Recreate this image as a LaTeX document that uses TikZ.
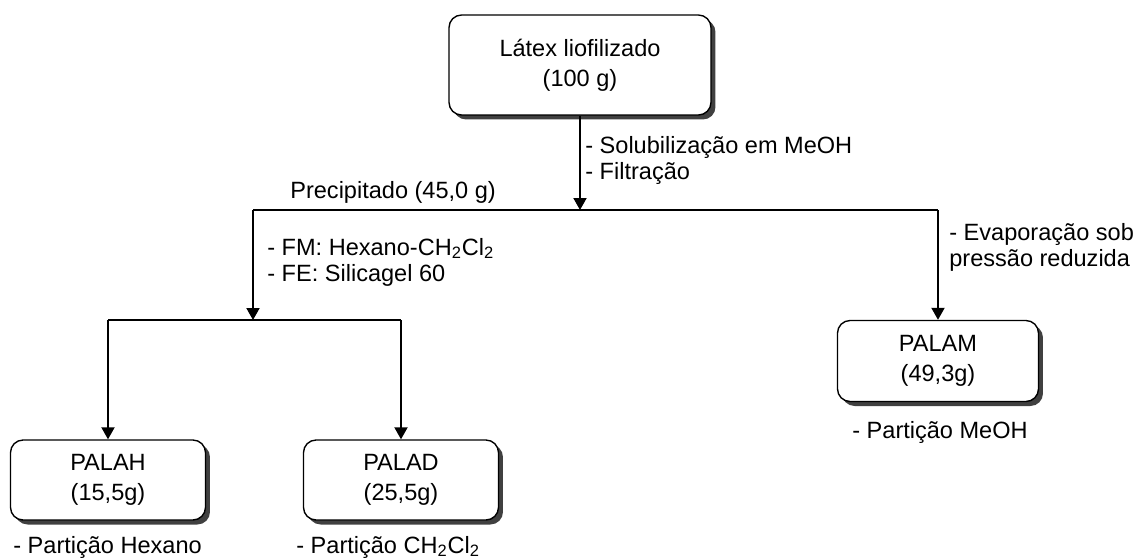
\documentclass[tikz,border=0pt]{standalone}
\usepackage{fontspec}
\setmainfont{Liberation Sans}
\usetikzlibrary{arrows.meta,shadows}
\tikzset{
	caixa/.style={draw, line width=0.8pt, rounded corners=0.25cm, fill=white,
		drop shadow={shadow xshift=0.09cm, shadow yshift=-0.09cm, fill=black!75, opacity=1},
		align=center, font=\fontsize{13.4}{17}\selectfont},
	rotulo/.style={anchor=west, align=left, inner sep=0pt, font=\fontsize{13.4}{14.8}\selectfont},
	seta/.style={line width=1.1pt, -{Triangle[width=0.26cm,length=0.24cm]}},
	linha/.style={line width=1.1pt},
}
\begin{document}
\begin{tikzpicture}[x=0.02cm, y=-0.02cm]
			\useasboundingbox (0,0) rectangle (1144,559);
			\node[caixa, minimum width=5.24cm, minimum height=2cm] (latex) at (580,65) {Látex liofilizado\\(100 g)};
			\node[caixa, minimum width=3.9cm, minimum height=1.6cm] (palah) at (108,480) {PALAH\\(15,5g)};
			\node[caixa, minimum width=3.9cm, minimum height=1.6cm] (palad) at (401,480) {PALAD\\(25,5g)};
			\node[caixa, minimum width=4.02cm, minimum height=1.62cm] (palam) at (938,361) {PALAM\\(49,3g)};
			\coordinate (precip) at (253,210);
			\coordinate (topo)   at (latex.south |- precip);
			\coordinate (evap)   at (palam.north |- precip);
			\coordinate (coluna) at (253,320);
			\coordinate (hex)    at (palah.north |- coluna);
			\coordinate (dcm)    at (palad.north |- coluna);
			\draw[seta] (latex) -- (topo);
			\draw[linha] (precip) -- (evap);
			\draw[seta] (precip) -- (coluna);
			\draw[linha] (hex) -- (dcm);
			\draw[seta] (hex) -- (palah);
			\draw[seta] (dcm) -- (palad);
			\draw[seta] (evap) -- (palam);
			\node[rotulo] (lprecip) at (290,192) {Precipitado (45,0 g)};
			\node[rotulo] (lsolub) at (585,160) {- Solubilização em MeOH\\- Filtração};
			\node[rotulo] (lfm) at (267,262) {- FM: Hexano-CH\textsubscript{2}Cl\textsubscript{2}\\- FE: Silicagel 60};
			\node[rotulo] (levap) at (949,247) {- Evaporação sob\\pressão reduzida};
			\node[rotulo] (lhex) at (13,547) {- Partição Hexano};
			\node[rotulo] (ldcm) at (296,547) {- Partição CH\textsubscript{2}Cl\textsubscript{2}};
			\node[rotulo] (lmeoh) at (852,432) {- Partição MeOH};
		\end{tikzpicture}
\end{document}
